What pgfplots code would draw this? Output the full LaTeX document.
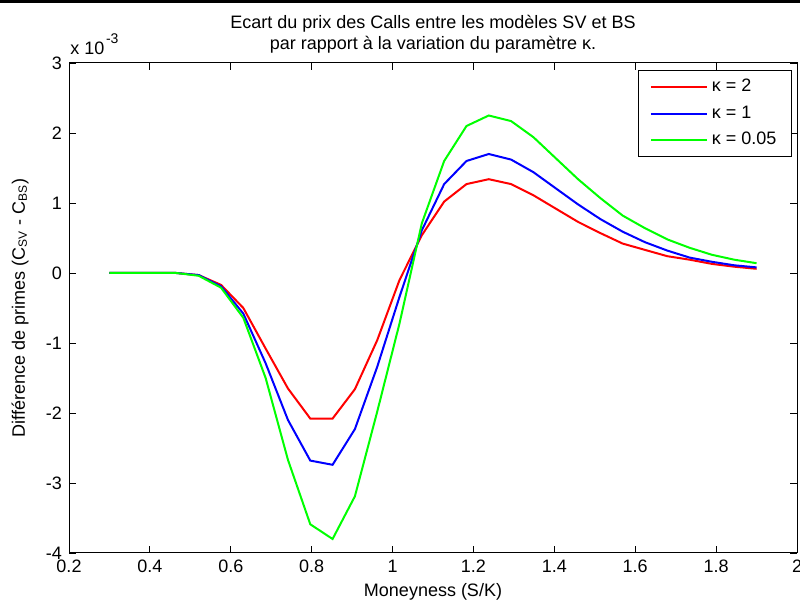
\documentclass[border=0pt]{standalone}
\usepackage{fontspec}
\setmainfont{Liberation Sans}
\usepackage{pgfplots}
\pgfplotsset{compat=1.18}
\usepackage{pgfplotstable}
\pgfplotstableread{
x red blue green
0.3000 0 0 0
0.3552 0 0 0
0.4103 0 0 0
0.4655 0 0 0
0.5207 -0.03 -0.03 -0.04
0.5759 -0.17 -0.19 -0.21
0.6310 -0.50 -0.58 -0.64
0.6862 -1.08 -1.29 -1.50
0.7414 -1.65 -2.10 -2.67
0.7966 -2.08 -2.68 -3.59
0.8517 -2.08 -2.74 -3.80
0.9069 -1.66 -2.23 -3.19
0.9621 -0.96 -1.34 -1.98
1.0172 -0.10 -0.34 -0.72
1.0724 0.54 0.61 0.71
1.1276 1.02 1.27 1.60
1.1828 1.27 1.60 2.10
1.2379 1.34 1.70 2.25
1.2931 1.27 1.62 2.17
1.3483 1.11 1.44 1.94
1.4034 0.92 1.21 1.64
1.4586 0.73 0.98 1.34
1.5138 0.57 0.77 1.07
1.5690 0.42 0.59 0.82
1.6241 0.33 0.44 0.64
1.6793 0.24 0.32 0.48
1.7345 0.19 0.22 0.36
1.7897 0.13 0.16 0.26
1.8448 0.09 0.11 0.19
1.9000 0.06 0.08 0.14
}\data
\begin{document}
\begin{tikzpicture}[font=\fontsize{9}{11}\selectfont]
\begin{axis}[
  scale only axis,
  width=364pt, height=245pt,
  xmin=0.2, xmax=2, ymin=-4, ymax=3,
  xtick={0.2,0.4,0.6,0.8,1.0,1.2,1.4,1.6,1.8,2.0},
  xticklabels={0.2,0.4,0.6,0.8,1,1.2,1.4,1.6,1.8,2},
  ytick={-4,-3,-2,-1,0,1,2,3},
  yticklabels={-4,-3,-2,-1,0,1,2,3},
  tick align=inside,
  xtick pos=both, ytick pos=both,
  major tick length=3.5pt,
  axis line style={line width=0.5pt},
  every tick/.style={black, line width=0.4pt},
  tick label style={font=\fontsize{9}{11}\selectfont},
  title={Ecart du prix des Calls entre les modèles SV et BS\\par rapport à la variation du paramètre κ.},
  title style={at={(0.5,1)}, anchor=south, yshift=-1.2pt, inner sep=0pt, align=center, font=\fontsize{9}{10.5}\selectfont},
  xlabel={Moneyness (S/K)},
  xlabel style={at={(axis description cs:0.5,-0.0796)}, anchor=center},
  ylabel={Différence de primes (C\textsubscript{SV} - C\textsubscript{BS})},
  ylabel style={at={(axis description cs:-0.0673,0.5)}, anchor=center, rotate=0},
  legend style={at={(0.993,0.986)}, anchor=north east, draw=black, line width=0.5pt,
    font=\fontsize{9}{11}\selectfont, inner xsep=5.5pt, inner ysep=2.5pt, row sep=1.5pt, cells={anchor=west}},
  legend image code/.code={\draw[#1] (0pt,0pt) -- (28pt,0pt);},
]
\addplot[red, line width=1pt] table[x=x, y=red] {\data};
\addlegendentry{κ = 2}
\addplot[blue, line width=1pt] table[x=x, y=blue] {\data};
\addlegendentry{κ = 1}
\addplot[green, line width=1pt] table[x=x, y=green] {\data};
\addlegendentry{κ = 0.05}
\coordinate (SW) at (rel axis cs:0,0);
\coordinate (NE) at (rel axis cs:1,1);
\coordinate (NW) at (rel axis cs:0,1);
\end{axis}
\node[anchor=base west, inner sep=0pt, xshift=0.5pt, yshift=4pt, font=\fontsize{9}{11}\selectfont] at (NW) {x 10\hspace{0.8pt}\raisebox{5.5pt}{\fontsize{7}{8}\selectfont -3}};
\pgfresetboundingbox
\path[use as bounding box] ([xshift=-34.5pt,yshift=-24pt]SW) rectangle ([xshift=1.5pt,yshift=31.5pt]NE);
\fill[black] ([xshift=-34.5pt,yshift=30.2pt]SW|-NE) rectangle ([xshift=1.5pt,yshift=31.5pt]NE);
\end{tikzpicture}
\end{document}
